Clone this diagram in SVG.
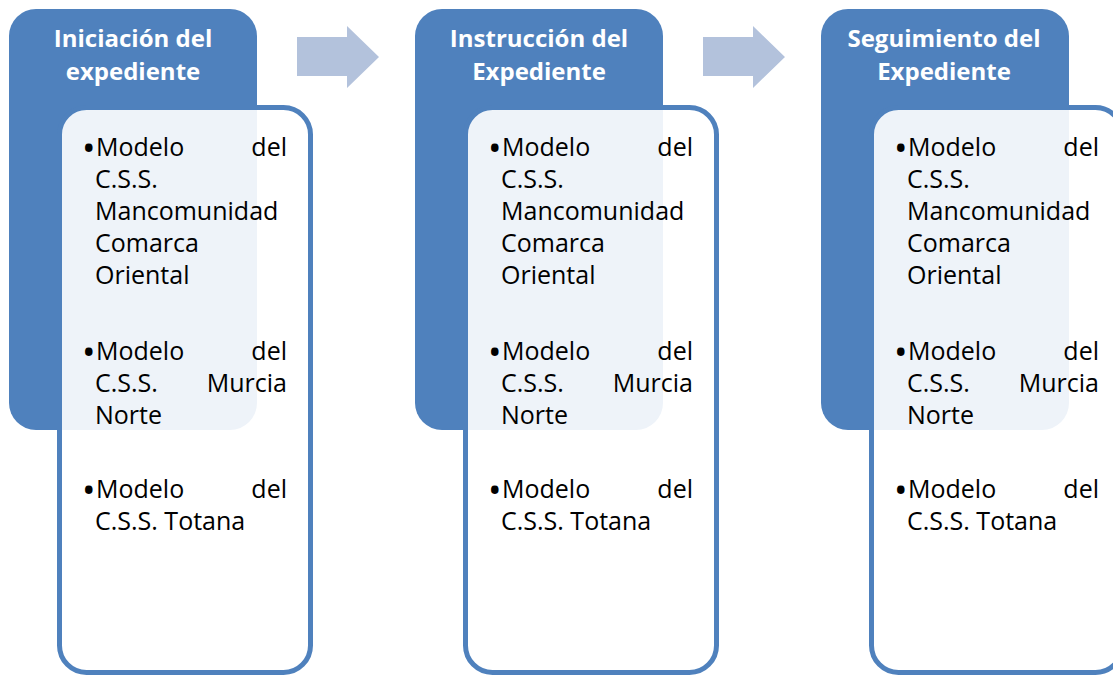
<svg xmlns="http://www.w3.org/2000/svg" width="1113" height="675" viewBox="0 0 1113 675">
<style>
.hdr{fill:#4F81BD}
.box{fill:#FFFFFF;fill-opacity:0.9;stroke:#4F81BD;stroke-width:5}
.arr{fill:#B3C2DC}
.ttl{font-family:"Open Sans","Liberation Sans",sans-serif;font-weight:bold;font-size:24px;fill:#FFFFFF;text-anchor:middle}
.bd{font-family:"Open Sans","Liberation Sans",sans-serif;font-size:25px;fill:#000000}
.bl{font-family:"Open Sans","Liberation Sans",sans-serif;font-size:36px;fill:#000000}
.r{text-anchor:end}
</style>
<rect width="1113" height="675" fill="#FFFFFF"/>
<g id="connectors">
<path class="arr" d="M297 37 H347 V26 L379 57 L347 88 V76 H297 Z"/>
<path class="arr" d="M703 37 H753 V26 L785 57 L753 88 V76 H703 Z"/>
</g>
<g id="node1">
<rect class="hdr" x="9" y="9" width="248" height="421" rx="27"/>
<rect class="box" x="59.5" y="107.5" width="251" height="565" rx="27"/>
<text class="ttl" x="133" y="47">Iniciación del</text>
<text class="ttl" x="133" y="80">expediente</text>
<text class="bl" x="82" y="161">•</text><text class="bd" x="96" y="156">Modelo</text><text class="bd r" x="287" y="156">del</text>
<text class="bd" x="95" y="188">C.S.S.</text>
<text class="bd" x="95" y="220">Mancomunidad</text>
<text class="bd" x="95" y="252">Comarca</text>
<text class="bd" x="95" y="284">Oriental</text>
<text class="bl" x="82" y="365">•</text><text class="bd" x="96" y="360">Modelo</text><text class="bd r" x="287" y="360">del</text>
<text class="bd" x="95" y="392">C.S.S.</text><text class="bd r" x="287" y="392">Murcia</text>
<text class="bd" x="95" y="424">Norte</text>
<text class="bl" x="82" y="503">•</text><text class="bd" x="96" y="498">Modelo</text><text class="bd r" x="287" y="498">del</text>
<text class="bd" x="95" y="530">C.S.S. Totana</text>
</g>
<g id="node2">
<rect class="hdr" x="415" y="9" width="248" height="421" rx="27"/>
<rect class="box" x="465.5" y="107.5" width="251" height="565" rx="27"/>
<text class="ttl" x="539" y="47">Instrucción del</text>
<text class="ttl" x="539" y="80">Expediente</text>
<text class="bl" x="488" y="161">•</text><text class="bd" x="502" y="156">Modelo</text><text class="bd r" x="693" y="156">del</text>
<text class="bd" x="501" y="188">C.S.S.</text>
<text class="bd" x="501" y="220">Mancomunidad</text>
<text class="bd" x="501" y="252">Comarca</text>
<text class="bd" x="501" y="284">Oriental</text>
<text class="bl" x="488" y="365">•</text><text class="bd" x="502" y="360">Modelo</text><text class="bd r" x="693" y="360">del</text>
<text class="bd" x="501" y="392">C.S.S.</text><text class="bd r" x="693" y="392">Murcia</text>
<text class="bd" x="501" y="424">Norte</text>
<text class="bl" x="488" y="503">•</text><text class="bd" x="502" y="498">Modelo</text><text class="bd r" x="693" y="498">del</text>
<text class="bd" x="501" y="530">C.S.S. Totana</text>
</g>
<g id="node3">
<rect class="hdr" x="821" y="9" width="248" height="421" rx="27"/>
<rect class="box" x="871.5" y="107.5" width="251" height="565" rx="27"/>
<text class="ttl" x="944" y="47">Seguimiento del</text>
<text class="ttl" x="944" y="80">Expediente</text>
<text class="bl" x="894" y="161">•</text><text class="bd" x="908" y="156">Modelo</text><text class="bd r" x="1099" y="156">del</text>
<text class="bd" x="907" y="188">C.S.S.</text>
<text class="bd" x="907" y="220">Mancomunidad</text>
<text class="bd" x="907" y="252">Comarca</text>
<text class="bd" x="907" y="284">Oriental</text>
<text class="bl" x="894" y="365">•</text><text class="bd" x="908" y="360">Modelo</text><text class="bd r" x="1099" y="360">del</text>
<text class="bd" x="907" y="392">C.S.S.</text><text class="bd r" x="1099" y="392">Murcia</text>
<text class="bd" x="907" y="424">Norte</text>
<text class="bl" x="894" y="503">•</text><text class="bd" x="908" y="498">Modelo</text><text class="bd r" x="1099" y="498">del</text>
<text class="bd" x="907" y="530">C.S.S. Totana</text>
</g>
</svg>
